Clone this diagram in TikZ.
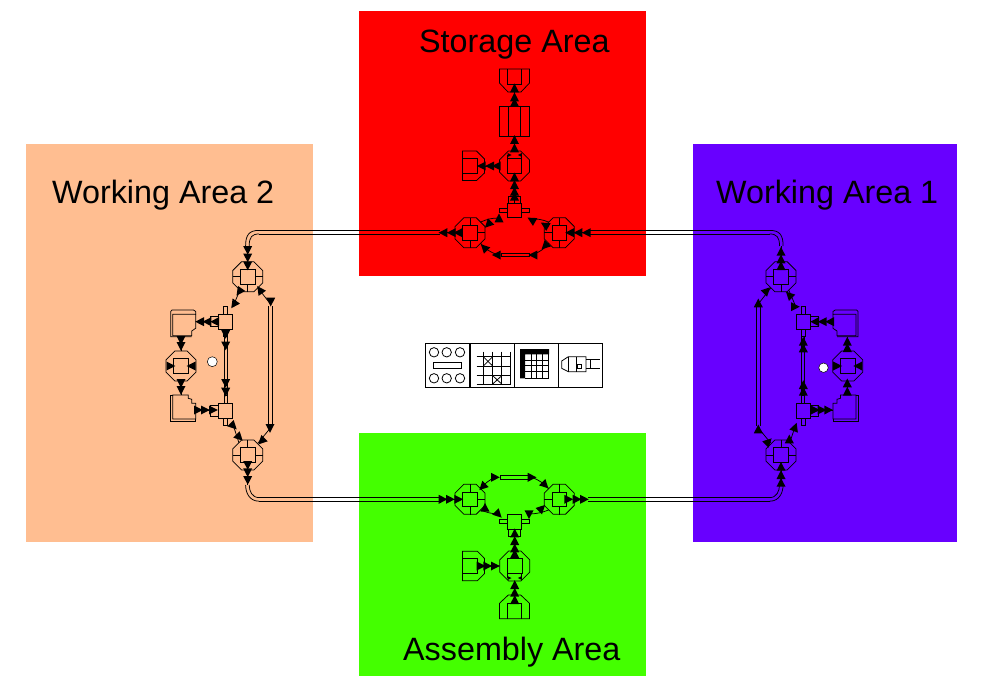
\documentclass[tikz,border=0pt]{standalone}
\usepackage{fontspec}
\setmainfont{Liberation Sans}
\usetikzlibrary{shapes.geometric}
\definecolor{cRed}{RGB}{255,0,0}
\definecolor{cOrange}{RGB}{255,190,145}
\definecolor{cPurple}{RGB}{104,0,255}
\definecolor{cGreen}{RGB}{68,255,0}
\tikzset{
 ln/.style={draw=black,line width=.75pt},
 sq/.style={ln,rectangle,minimum size=14.6pt,inner sep=0pt,outer sep=0pt},
 octa/.style={ln,regular polygon,regular polygon sides=8,minimum size=32.4pt,inner sep=0pt,outer sep=0pt},
 lbl/.style={anchor=base west,inner sep=0pt,font=\fontsize{32.3}{36}\selectfont},
 iconbox/.style={draw=black,line width=1.1pt,fill=white,rectangle,minimum width=44.3pt,minimum height=44pt,inner sep=0pt},
 icl/.style={draw=black,line width=.8pt},
 dot/.style={circle,draw=black,line width=.5pt,fill=white,minimum size=9.5pt,inner sep=0pt}
}
\newcommand\tri[3]{\fill[black,shift={(#1,#2)},rotate=#3] (4.8pt,0pt)--(-4pt,4.5pt)--(-4pt,-4.5pt)--cycle;}
\newcommand\smalltri[3]{\fill[black,shift={(#1,#2)},rotate=#3] (2.2pt,0pt)--(-1.8pt,2pt)--(-1.8pt,-2pt)--cycle;}
% octagon with a square core: name, x, y
\newcommand\octa[3]{\node[octa] (#1o) at (#2,#3) {};\node[sq] (#1) at (#2,#3) {};}
% working-area body, prefix #1 (drawn in left-side coordinates)
\newcommand\waBody[1]{%
 \octa{#1T}{247.7}{276.7}
 \draw[ln] (240.4,276.7)--(232.7,276.7) (255,276.7)--(262.7,276.7) (247.7,284)--(247.7,292);
 \octa{#1B}{247.7}{455}
 \draw[ln] (240.4,455)--(232.7,455) (255,455)--(262.7,455) (247.7,447.7)--(247.7,440);
 \octa{#1M}{181}{366}
 \node[sq] (#1U) at (225.5,321.8) {};
 \node[sq] (#1D) at (225.5,410.8) {};
 \draw[ln] (223.4,314.5) rectangle (227.4,306.7);
 \draw[ln] (223.4,329.1) rectangle (227.4,336.5);
 \draw[ln] (224,403.5) rectangle (227.4,395.7);
 \draw[ln] (223.4,418.1) rectangle (227.4,425.7);
 \draw[ln] (218.2,316.7) -- (210,316.7) -- (210,326.7) -- (218.2,326.7);
 \draw[ln] (218.2,405.7) -- (210.7,405.7) -- (210.7,416) -- (218.2,416);
 % inner double line between the boxes
 \draw[ln] (223.9,336.5)--(223.9,395.7) (227.2,336.5)--(227.2,395.7);
 % outer double line
 \coordinate (#1a1) at (268.8,306); \coordinate (#1a2) at (268.8,426);
 \coordinate (#1b1) at (272.1,306); \coordinate (#1b2) at (272.1,426);
 \draw[ln] (#1a1)--(#1a2) (#1b1)--(#1b2);
 % upper paper
 \draw[ln] (172.7,314.3)--(195.7,314.3)--(195.7,328.3)--(191.7,331)--(191.7,335.7)--(172.7,335.7)--cycle;
 \draw[ln] (195.7,314.3)--(195.7,311.5)--(193.5,310)--(172,310)--(170.7,311.5)--(170.7,336.7)--(191.7,336.7);
 % lower paper
 \draw[ln] (172.7,395)--(188.3,395)--(188.3,398.3)--(191.7,399.3)--(191.7,403.3)--(195.7,403.3)--(195.7,419)--(172.7,419)--cycle;
 \draw[ln] (172.7,395)--(170.7,395)--(170.7,421)--(195.7,421)--(195.7,419);
 % thin connectors
 \coordinate (#1tsw) at (240,290); \coordinate (#1tse) at (258,288);
 \coordinate (#1bnw) at (239,443); \coordinate (#1bne) at (258,443);
 \draw[ln] (#1tsw)--(234,304);
 \draw[ln] (#1tse)--(270.4,304);
 \draw[ln] (270.4,428)--(#1bne);
 \draw[ln] (233.5,426)--(#1bnw);
 \draw[ln] (218,321.8)--(195.7,321.8);
 \draw[ln] (210,410.8)--(195.7,410.8);
 \draw[ln] (181,351)--(181,336.7) (181,381)--(181,395);
 % pipes
 \draw[ln] (245.6,246) .. controls (245.6,235) and (249,230.4) .. (259,230.4);
 \draw[ln] (249.2,246) .. controls (249.2,237) and (252,234) .. (259,234);
 \draw[ln] (245.6,485) .. controls (245.6,492) and (249,501.2) .. (259,501.2);
 \draw[ln] (249.2,485) .. controls (249.2,491) and (252,497.6) .. (259,497.6);
 \draw[ln] (247.7,261)--(247.7,246) (247.7,470)--(247.7,485);
 % octagon inner triangles
 \tri{170.5}{366}{0}\tri{191.5}{366}{180}
}
\begin{document}
\begin{tikzpicture}[x=1pt,y=-1pt]
\useasboundingbox (0,0) rectangle (988,690);
\fill[white] (0,0) rectangle (988,690);
% area panels
\fill[cOrange] (26,144) rectangle (313,542);
\fill[cPurple] (693,144) rectangle (957,542);
\fill[cRed] (359,11) rectangle (646,276);
\fill[cGreen] (359,433) rectangle (646,676);
% labels
\node[lbl] (lblS) at (419,52.5) {Storage Area};
\node[lbl] (lblW2) at (52,204) {Working Area 2};
\node[lbl] (lblW1) at (716,204) {Working Area 1};
\node[lbl] (lblA) at (403,660) {Assembly Area};
% long pipes
\draw[ln] (259,230.4)--(440,230.4) (259,234)--(440,234);
\draw[ln] (259,497.6)--(440,497.6) (259,501.2)--(440,501.2);
\draw[ln] (590,230.4)--(769.7,230.4) (590,234)--(769.7,234);
\draw[ln] (588,497.6)--(769.7,497.6) (588,501.2)--(769.7,501.2);
% ---------- Working Area 2
\waBody{w}
\node[dot,minimum size=10pt] (wdot) at (212.3,361.7) {};
\tri{247.7}{250}{270}\tri{247.7}{257.5}{270}\tri{247.7}{265.5}{270}
\tri{239.3}{291.7}{235}\tri{234}{304.3}{235}
\tri{260}{290}{125}\tri{270.7}{301.7}{270}
\tri{215}{321.7}{180}\tri{207.3}{321.7}{180}\tri{200}{321.7}{180}
\tri{181}{340}{270}\tri{181}{346}{270}\tri{181}{383}{270}\tri{181}{390}{270}
\tri{225.7}{334}{270}\tri{225.7}{345.5}{270}\tri{225.7}{383}{270}\tri{225.7}{391.7}{270}
\tri{198}{410}{0}\tri{205}{410}{0}\tri{213}{410}{0}
\tri{233.3}{426}{315}\tri{239.3}{437.3}{315}
\tri{270}{428}{270}\tri{261.7}{441}{225}
\tri{247.7}{465}{270}\tri{247.7}{472.3}{270}\tri{247.7}{480}{270}
% ---------- Working Area 1 (mirror of area 2)
\begin{scope}[xshift=1028.7pt,xscale=-1]
\waBody{e}
\tri{247.7}{251.7}{90}\tri{247.7}{259.3}{90}\tri{247.7}{266}{90}
\tri{262}{290.7}{135}\tri{270.4}{303.3}{90}
\tri{239.4}{295}{45}\tri{233.7}{306.7}{180}
\tri{213.7}{321.7}{0}\tri{206}{321.7}{0}\tri{198.7}{321.7}{0}
\tri{181.4}{341.7}{90}\tri{181.4}{348}{90}\tri{181.4}{383.3}{90}\tri{181.4}{391.7}{90}
\tri{225.4}{341.7}{90}\tri{225.4}{348.3}{90}\tri{225.4}{385}{90}\tri{225.4}{391.7}{90}
\tri{213.7}{410}{180}\tri{207}{410}{180}\tri{200.4}{410}{180}
\tri{270.4}{429.3}{90}\tri{260.4}{441.7}{135}
\tri{239.4}{439.3}{90}\tri{233.7}{427.3}{110}
\tri{247.7}{466.7}{90}\tri{247.7}{475}{90}\tri{247.7}{482.7}{90}
\end{scope}
\node[dot] (edot) at (823.5,367.7) {};
% ---------- Storage Area
\octa{sL}{470}{232.7}
\octa{sR}{559.3}{232.7}
\octa{sC}{514.5}{166}
\node[sq] (sT) at (514.5,210.5) {};
\draw[ln] (sL.north)--(470,217.5) (sL.south)--(470,248) (sL.east)--(485,232.7);
\draw[ln] (sR.north)--(559.3,217.5) (sR.south)--(559.3,248) (sR.west)--(544.3,232.7);
\draw[ln] (507.5,155)--(507.5,158.7) (521.5,155)--(521.5,158.7);
\draw[ln] (508.5,203.2) rectangle (520.5,196);
\draw[ln] (507.2,208.5) rectangle (499.5,212.5) (521.8,208.5) rectangle (529.5,212.5);
\node[ln,rectangle,minimum width=30pt,minimum height=30.5pt,inner sep=0pt] (sStore) at (514.5,121.2) {};
\draw[ln] (508.5,106)--(508.5,136.5) (520.5,106)--(520.5,136.5);
\draw[ln] (499.5,69)--(529.5,69)--(529.5,83)--(521,92)--(508,92)--(499.5,83)--cycle;
\draw[ln] (507.5,69)--(507.5,84.5)--(521.5,84.5)--(521.5,69);
\draw[ln] (462.5,151)--(476.5,151)--(484.5,159)--(484.5,173)--(476.5,180.5)--(462.5,180.5)--cycle;
\draw[ln] (462.5,158.5)--(477.5,158.5)--(477.5,173.5)--(462.5,173.5);
\draw[ln] (sT.north)--(sCo.south) (sCo.north)--(sStore.south) (sStore.north)--(514.5,92) (sCo.west)--(484.5,166);
\draw[ln] (sRo.east)--(590,232.5) (sLo.west)--(440,232.5);
\draw[ln] (sLo.north east) to[bend left=12] (499,218);
\draw[ln] (531,219) to[bend left=12] (sRo.north west);
\draw[ln] (sLo.south east) to[bend right=15] (497,254.5);
\draw[ln] (533,254.5) to[bend right=15] (sRo.south west);
\draw[ln] (501.7,253.3) rectangle (529.3,256.7);
\tri{514.5}{88.3}{90}\tri{514.5}{97.3}{90}\tri{514.5}{102.7}{90}
\tri{514.5}{140}{90}\tri{514.5}{148.3}{90}
\tri{481.7}{166}{180}\tri{490}{166}{180}\tri{496.7}{166}{180}
\tri{514.5}{177.3}{90}\tri{514.5}{185}{90}\tri{514.5}{191.7}{90}\tri{514.5}{196.7}{90}
\smalltri{509.3}{155}{0}\smalltri{520}{155}{180}
\tri{443.3}{232.7}{180}\tri{451.7}{232.7}{180}\tri{458.3}{232.7}{180}
\tri{570}{232.7}{180}\tri{578.3}{232.7}{180}\tri{586.7}{232.7}{180}
\tri{488.3}{224.3}{225}\tri{499}{218.3}{90}
\tri{545}{225}{150}\tri{531.7}{220}{150}
\tri{484.3}{247.7}{135}\tri{496.7}{255}{180}
\tri{533.3}{255}{180}\tri{545}{246}{225}
% ---------- Assembly Area
\octa{aL}{470}{499.3}
\octa{aR}{559.3}{499.3}
\octa{aC}{514.7}{566}
\node[sq] (aT) at (514.5,521.6) {};
\draw[ln] (aL.north)--(470,484) (aL.south)--(470,514.5) (aL.east)--(485,499.3);
\draw[ln] (aR.north)--(559.3,484) (aR.south)--(559.3,514.5) (aR.west)--(544.3,499.3);
\draw[ln] (508.5,529) rectangle (520.5,536.7);
\draw[ln] (507.2,519.5) rectangle (499.5,523.7) (521.8,519.5) rectangle (529.5,523.7);
\draw[ln] (507.5,573.3)--(507.5,578) (521.5,573.3)--(521.5,578);
\draw[ln] (462.5,551.3)--(477.5,551.3)--(484.5,558.5)--(484.5,573.5)--(477.5,580.7)--(462.5,580.7)--cycle;
\draw[ln] (462.5,558.7)--(477.5,558.7)--(477.5,573.5)--(462.5,573.5);
\draw[ln] (499.5,618.7)--(529.5,618.7)--(529.5,603.3)--(520.7,595)--(508.3,595)--(499.5,603.3)--cycle;
\draw[ln] (507.5,618.7)--(507.5,603.3)--(521.5,603.3)--(521.5,618.7);
\draw[ln] (aT.south)--(aCo.north) (aCo.south)--(514.7,603) (aCo.west)--(484.5,566);
\draw[ln] (aLo.west)--(440,499.3) (aRo.east)--(588,499.3);
\draw[ln] (aLo.north east) to[bend left=12] (495,477.3);
\draw[ln] (532,477.3) to[bend left=12] (aRo.north west);
\draw[ln] (aLo.south east) to[bend right=10] (498,514);
\draw[ln] (529,514) to[bend right=10] (aRo.south west);
\draw[ln] (500,475.2) rectangle (529.3,479.3);
\tri{442.7}{499.3}{0}\tri{450}{499.3}{0}\tri{458.3}{499.3}{0}
\tri{568.3}{499.3}{0}\tri{576.7}{499.3}{0}\tri{584}{499.3}{0}
\tri{482.7}{486.7}{225}\tri{495}{477.3}{0}
\tri{531.7}{477.3}{0}\tri{545}{485}{315}
\tri{485}{507.7}{90}\tri{498.3}{514.3}{315}
\tri{529}{514.3}{270}\tri{541.7}{508.3}{45}
\tri{514.7}{533.3}{90}\tri{514.7}{541}{90}\tri{514.7}{548.3}{90}\tri{514.7}{554}{90}
\tri{480.7}{566}{0}\tri{487.3}{566}{0}\tri{495}{566}{0}
\smalltri{509.3}{578}{0}\smalltri{520}{578}{180}
\tri{514.7}{585}{90}\tri{514.7}{592.7}{90}\tri{514.7}{600}{90}
% ---------- central icons
\node[iconbox] (ic1) at (447.5,365.3) {};
\node[iconbox] (ic2) at (492.2,365.3) {};
\node[iconbox] (ic3) at (536.3,365.3) {};
\node[iconbox] (ic4) at (580.5,365.3) {};
\foreach \px in {434,446.7,460}{\foreach \py in {352.3,378.3}{\draw[icl] (\px,\py) circle[radius=4.7pt];}}
\draw[icl] (433.3,362.7) rectangle (461.7,368.3);
\foreach \py in {356.7,366,375.7,384}{\draw[icl] (476.7,\py)--(510.7,\py);}
\foreach \px in {483.3,492.7,501.7,510.7}{\draw[icl] (\px,351.7)--(\px,384);}
\draw[icl] (483.3,356.7)--(492.7,366) (483.3,366)--(492.7,356.7);
\draw[icl] (492.7,375.7)--(501.7,384) (492.7,384)--(501.7,375.7);
\fill[black] (520,349)--(549,349)--(549,354.3)--(525,354.3)--(525,378.3)--(520,378.3)--cycle;
\foreach \py in {360,365.7,371.7,378.3}{\draw[icl] (525,\py)--(549,\py);}
\foreach \px in {531.3,536.7,542.7,548.7}{\draw[icl] (\px,354)--(\px,378.3);}
\draw[icl] (561.7,361)--(568.3,356.7)--(586,356.7)--(586,371.7)--(568.3,371.7)--(561.7,368.3)--cycle;
\draw[icl] (568.3,356.7)--(568.3,371.7) (576.7,356.7)--(576.7,371.7);
\draw[icl] (577.3,364.3) rectangle (581.7,368.3);
\draw[icl] (586,359)--(600,359) (590,359)--(590,368.3);
\draw[black,line width=1.2pt] (586,368.5)--(600,368.5);
\end{tikzpicture}
\end{document}
